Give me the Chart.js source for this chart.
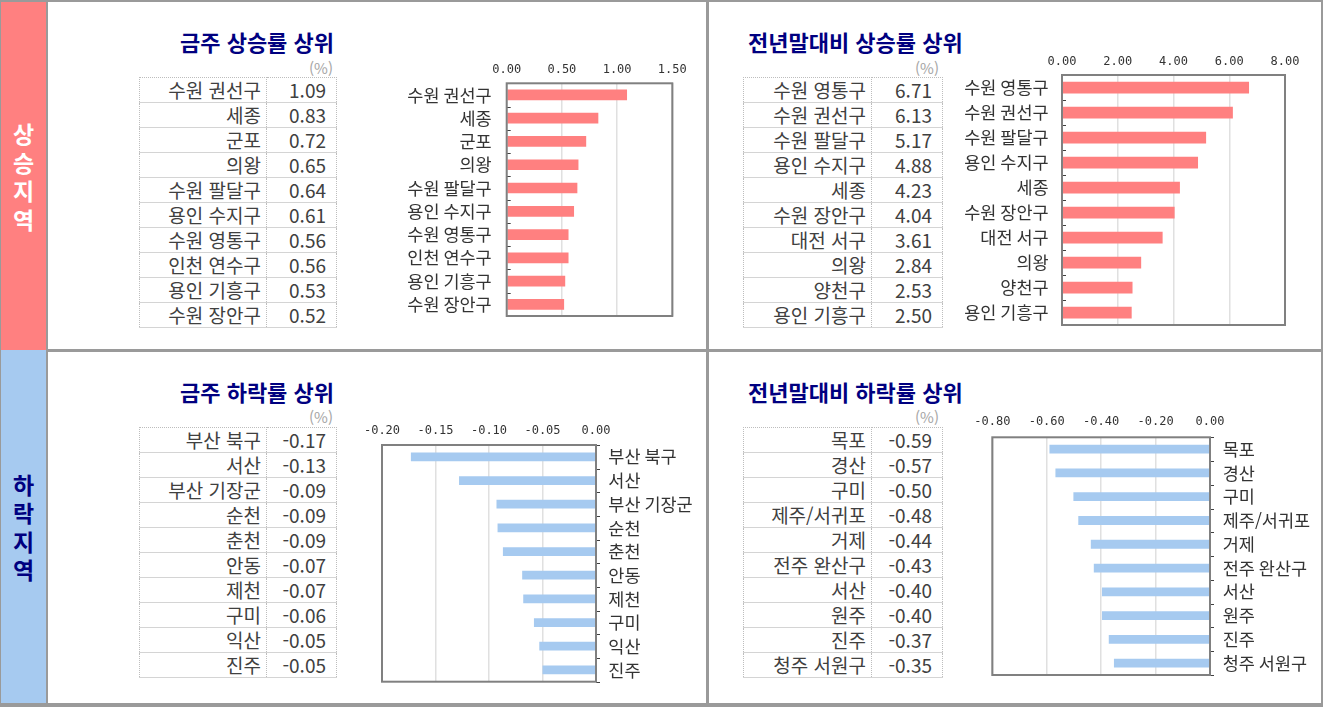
<!DOCTYPE html>
<html lang="ko">
<head>
<meta charset="utf-8">
<script src="https://cdn.jsdelivr.net/npm/chart.js@4"></script>
<style>
  body { margin: 0; background: #fff; }
  #board { position: relative; width: 1327px; height: 707px; overflow: hidden; font-family: 'Noto Sans CJK KR', sans-serif; }
  .line { position: absolute; background: #9a9a9a; }
  .side { position: absolute; left: 1px; width: 45px; display: flex; align-items: center; justify-content: center; }
  .side div { font-weight: bold; font-size: 23px; line-height: 28.5px; text-align: center; }
  .title { position: absolute; font-size: 22px; font-weight: bold; color: #000080; line-height: 28px; white-space: nowrap; }
  .unit { position: absolute; width: 50px; text-align: right; font-size: 15px; line-height: 18px; color: #a6a6a6; }
  table.t { position: absolute; border-collapse: collapse; table-layout: fixed; font-size: 19px; color: #404040; }
  table.t tr { height: 25px; }
  table.t td { padding: 0; line-height: 24px; white-space: nowrap;
    border-left: 1px dotted #bdbdbd; border-right: 1px dotted #bdbdbd; border-bottom: 1px solid #d4d4d4; }
  table.t tr:first-child td { border-top: 1px dotted #bdbdbd; }
  td.n { text-align: right; padding-right: 5px !important; }
  td.v { text-align: right; padding-right: 10px !important; }
  .cbox { position: absolute; }
</style>
</head>
<body>
<div id="board">
  <!-- side bar -->
  <div class="side" style="top:2px;height:348px;background:#ff8080;"><div style="color:#fff;">상<br>승<br>지<br>역</div></div>
  <div class="side" style="top:350px;height:353px;background:#a6caf0;"><div style="color:#000080;">하<br>락<br>지<br>역</div></div>

  <!-- frame lines -->
  <div class="line" style="left:0;top:0;width:1323px;height:2px;"></div>
  <div class="line" style="left:0;top:0;width:1px;height:707px;"></div>
  <div class="line" style="left:46px;top:0;width:2px;height:707px;"></div>
  <div class="line" style="left:1321px;top:0;width:2px;height:707px;"></div>
  <div class="line" style="left:0;top:703px;width:1323px;height:4px;"></div>
  <div class="line" style="left:48px;top:349px;width:1274px;height:2.5px;"></div>
  <div class="line" style="left:706px;top:0;width:2.5px;height:707px;"></div>

  <!-- top left -->
  <div class="title" style="left:180px;top:27px;">금주 상승률 상위</div>
  <div class="unit" style="left:283px;top:59px;">(%)</div>
  <table class="t" id="tblWeekUp" style="left:139px;top:77px;width:197px;"></table>
  <div class="cbox" style="left:380px;top:52px;width:320px;height:268px;"><canvas id="cWeekUp"></canvas></div>

  <!-- top right -->
  <div class="title" style="left:748px;top:27px;">전년말대비 상승률 상위</div>
  <div class="unit" style="left:889px;top:59px;">(%)</div>
  <table class="t" id="tblYearUp" style="left:743px;top:77px;width:199px;"></table>
  <div class="cbox" style="left:935px;top:40px;width:380px;height:290px;"><canvas id="cYearUp"></canvas></div>

  <!-- bottom left -->
  <div class="title" style="left:180px;top:377px;">금주 하락률 상위</div>
  <div class="unit" style="left:283px;top:408px;">(%)</div>
  <table class="t" id="tblWeekDown" style="left:139px;top:427px;width:197px;"></table>
  <div class="cbox" style="left:360px;top:405px;width:346px;height:285px;"><canvas id="cWeekDown"></canvas></div>

  <!-- bottom right -->
  <div class="title" style="left:748px;top:377px;">전년말대비 하락률 상위</div>
  <div class="unit" style="left:889px;top:408px;">(%)</div>
  <table class="t" id="tblYearDown" style="left:743px;top:427px;width:199px;"></table>
  <div class="cbox" style="left:960px;top:395px;width:360px;height:290px;"><canvas id="cYearDown"></canvas></div>
</div>

<script>
// Data
const weekUpNames = ['수원 권선구', '세종', '군포', '의왕', '수원 팔달구', '용인 수지구', '수원 영통구', '인천 연수구', '용인 기흥구', '수원 장안구'];
const weekUpValues = [1.09, 0.83, 0.72, 0.65, 0.64, 0.61, 0.56, 0.56, 0.53, 0.52];
const weekUpAxis = [0, 1.5, 0.5];   // min, max, step

const yearUpNames = ['수원 영통구', '수원 권선구', '수원 팔달구', '용인 수지구', '세종', '수원 장안구', '대전 서구', '의왕', '양천구', '용인 기흥구'];
const yearUpValues = [6.71, 6.13, 5.17, 4.88, 4.23, 4.04, 3.61, 2.84, 2.53, 2.50];
const yearUpAxis = [0, 8, 2];

const weekDownNames = ['부산 북구', '서산', '부산 기장군', '순천', '춘천', '안동', '제천', '구미', '익산', '진주'];
const weekDownValues = [-0.173, -0.128, -0.093, -0.092, -0.087, -0.069, -0.068, -0.058, -0.053, -0.050];
const weekDownAxis = [-0.2, 0, 0.05];

const yearDownNames = ['목포', '경산', '구미', '제주/서귀포', '거제', '전주 완산구', '서산', '원주', '진주', '청주 서원구'];
const yearDownValues = [-0.59, -0.568, -0.502, -0.484, -0.438, -0.427, -0.397, -0.397, -0.372, -0.353];
const yearDownAxis = [-0.8, 0, 0.2];

const RED = '#ff8080';
const BLUE = '#a6caf0';

Chart.defaults.font.family = "'Noto Sans CJK KR', sans-serif";

// Tables
const fillTable = (id, names, values, nameW, valW) => {
    const tbl = document.getElementById(id);
    let html = `<colgroup><col style="width:${nameW}px"><col style="width:${valW}px"></colgroup>`;
    names.forEach((name, i) => {
        html += `<tr><td class="n">${name}</td><td class="v">${values[i].toFixed(2)}</td></tr>`;
    });
    tbl.innerHTML = html;
};

fillTable('tblWeekUp', weekUpNames, weekUpValues, 127, 70);
fillTable('tblYearUp', yearUpNames, yearUpValues, 128, 71);
fillTable('tblWeekDown', weekDownNames, weekDownValues, 127, 70);
fillTable('tblYearDown', yearDownNames, yearDownValues, 128, 71);

// Plot frame + small category marks
const framePlugin = {
    id: 'frame',
    afterDraw(chart) {
        const { ctx, chartArea: a } = chart;
        const y = chart.scales.y;
        const axisX = y.position === 'right' ? a.right : a.left;
        ctx.save();
        ctx.strokeStyle = '#404040';
        ctx.lineWidth = 1;
        for (let i = 0; i <= y.ticks.length; i++) {
            const py = Math.round(y.getPixelForValue(i - 0.5)) + 0.5;
            ctx.beginPath();
            ctx.moveTo(axisX, py);
            ctx.lineTo(axisX + 4, py);
            ctx.stroke();
        }
        ctx.strokeStyle = '#808080';
        ctx.lineWidth = 2;
        ctx.strokeRect(a.left, a.top, a.right - a.left, a.bottom - a.top);
        ctx.restore();
    }
};

// no extra space for overflowing edge labels
const noPad = (s) => {
    s.paddingLeft = 0;
    s.paddingRight = 0;
    s.paddingTop = 0;
    s.paddingBottom = 0;
};

const makeChart = (id, names, values, color, axis, g) => {
    const ctx = document.getElementById(id).getContext('2d');
    return new Chart(ctx, {
        type: 'bar',
        data: {
            labels: names,
            datasets: [{
                data: values,
                backgroundColor: color,
                borderWidth: 0,
                barPercentage: g.bar,
                categoryPercentage: 1
            }]
        },
        options: {
            indexAxis: 'y',
            responsive: true,
            maintainAspectRatio: false,
            animation: false,
            layout: { padding: g.pad },
            plugins: { legend: { display: false }, tooltip: { enabled: false } },
            scales: {
                x: {
                    position: 'top',
                    min: axis[0],
                    max: axis[1],
                    afterFit: (s) => { s.height = g.xH; noPad(s); },
                    grid: { color: '#e0e0e0', lineWidth: 1.5, drawTicks: false },
                    border: { display: false },
                    ticks: {
                        stepSize: axis[2],
                        padding: g.xPad,
                        maxRotation: 0,
                        autoSkip: false,
                        color: '#333333',
                        font: { family: "'DejaVu Sans Mono', monospace", size: 12 },
                        callback: (v) => Number(v).toFixed(2)
                    }
                },
                y: {
                    position: g.side,
                    afterFit: (s) => { s.width = g.yW; noPad(s); },
                    grid: { display: false, drawTicks: false },
                    border: { display: false },
                    ticks: {
                        padding: g.yPad,
                        color: '#333333',
                        autoSkip: false,
                        font: { size: 17.5 }
                    }
                }
            }
        },
        plugins: [framePlugin]
    });
};

makeChart('cWeekUp', weekUpNames, weekUpValues, RED, weekUpAxis,
    { side: 'left', yW: 126.7, xH: 31.3, pad: { left: 0, right: 27.7, top: 0, bottom: 4 }, xPad: 6.4, yPad: 15, bar: 0.46 });
makeChart('cYearUp', yearUpNames, yearUpValues, RED, yearUpAxis,
    { side: 'left', yW: 127, xH: 35, pad: { left: 0, right: 30, top: 0, bottom: 5 }, xPad: 6.4, yPad: 13.4, bar: 0.47 });
makeChart('cWeekDown', weekDownNames, weekDownValues, BLUE, weekDownAxis,
    { side: 'right', yW: 110, xH: 40, pad: { left: 22, right: 0, top: 0, bottom: 8.3 }, xPad: 7.4, yPad: 12.3, bar: 0.37 });
makeChart('cYearDown', yearDownNames, yearDownValues, BLUE, yearDownAxis,
    { side: 'right', yW: 110, xH: 42.3, pad: { left: 32.3, right: 0, top: 0, bottom: 10 }, xPad: 8.7, yPad: 12.7, bar: 0.37 });
</script>
</body>
</html>
